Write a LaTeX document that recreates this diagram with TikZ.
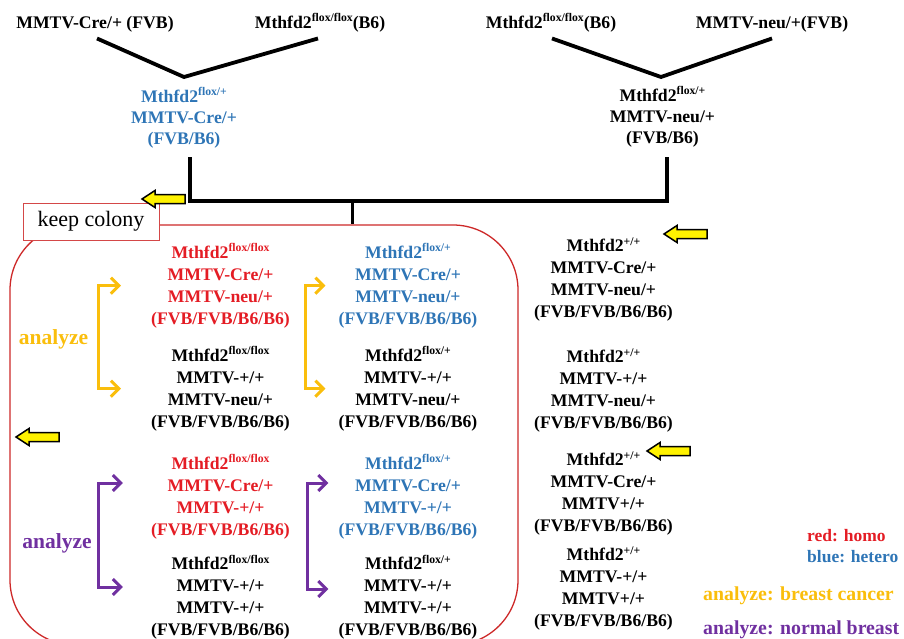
\documentclass[tikz,border=0pt]{standalone}
\usepackage{fontspec}
\setmainfont{Liberation Serif}
\usetikzlibrary{arrows.meta}
\definecolor{hred}{RGB}{228,28,36}
\definecolor{hblue}{RGB}{46,117,182}
\definecolor{gold}{RGB}{250,190,12}
\definecolor{purp}{RGB}{112,48,160}
\definecolor{boxred}{RGB}{205,40,40}
\newcommand\supr[1]{\raisebox{6.5pt}{\fontsize{11.7}{12}\selectfont #1}}
\begin{document}
\begin{tikzpicture}[x=1pt,y=-1pt,
  txt/.style={inner sep=0pt, align=center, font=\fontsize{17.7}{22}\selectfont\bfseries},
  ftxt/.style={inner sep=0pt, align=center, font=\fontsize{17.7}{21}\selectfont\bfseries},
  lgs/.style={inner sep=0pt, anchor=west, font=\fontsize{17.5}{20}\selectfont\bfseries},
  lgb/.style={inner sep=0pt, anchor=west, font=\fontsize{19.8}{22}\selectfont\bfseries},
  anl/.style={inner sep=0pt, font=\fontsize{21.5}{24}\selectfont\bfseries},
  conn/.style={line width=3.8pt, black},
  brk/.style={line width=3pt, {Straight Barb[length=8pt,width=16pt]}-{Straight Barb[length=8pt,width=16pt]}},
  yarr/.pic={\draw[fill=yellow, line width=1.5pt, line join=miter] (0,0) -- (13,-8.5) -- (13,-4.5) -- (43,-4.5) -- (43,4.5) -- (13,4.5) -- (13,8.5) -- cycle;}
]
\useasboundingbox (0,0) rectangle (904,639);
\clip (0,0) rectangle (904,639);

% parents
\node[txt, anchor=base] (p1) at (95,28.5) {MMTV-Cre/+ (FVB)};
\node[txt, anchor=base] (p2) at (320,28.5) {Mthfd2\supr{flox/flox}(B6)};
\node[txt, anchor=base] (p3) at (551,28.5) {Mthfd2\supr{flox/flox}(B6)};
\node[txt, anchor=base] (p4) at (772,28.5) {MMTV-neu/+(FVB)};

\coordinate (j1) at (184,77);
\coordinate (j2) at (661,77);
\draw[conn] ([xshift=2,yshift=-6]p1.south) -- (j1) -- ([xshift=-2,yshift=-6]p2.south);
\draw[conn] ([xshift=1,yshift=-6]p3.south) -- (j2) -- ([yshift=-6]p4.south);

% F1
\node[ftxt, text=hblue] (f1) at (184,117.7) {Mthfd2\supr{flox/+}\\MMTV-Cre/+\\(FVB/B6)};
\node[ftxt] (f2) at (662.5,117) {Mthfd2\supr{flox/+}\\MMTV-neu/+\\(FVB/B6)};

% colony box
\node[draw=boxred, line width=1.3pt, rounded corners=65pt, minimum width=508pt, minimum height=420pt, inner sep=0pt] (colony) at (264,435) {};

\draw[conn] ([xshift=6,yshift=-9]f1.south) -- ++(0,44) coordinate (hl) -| ([xshift=4.5,yshift=-10]f2.south);
\coordinate (mid) at (352.5,200.9);
\draw[conn] (mid) -- (mid |- colony.north);

\node[draw=boxred!85, line width=0.8pt, fill=white, minimum width=136pt, minimum height=37pt, inner sep=0pt, font=\fontsize{22}{24}\selectfont] (keep) at (91,221.5) {keep colony};

% column 1
\node[txt, text=hred] (c1s1) at (220.5,285.7) {Mthfd2\supr{flox/flox}\\MMTV-Cre/+\\MMTV-neu/+\\(FVB/FVB/B6/B6)};
\node[txt] (c1s2) at (220.5,388.7) {Mthfd2\supr{flox/flox}\\MMTV-+/+\\MMTV-neu/+\\(FVB/FVB/B6/B6)};
\node[txt, text=hred] (c1s3) at (220.5,496.7) {Mthfd2\supr{flox/flox}\\MMTV-Cre/+\\MMTV-+/+\\(FVB/FVB/B6/B6)};
\node[txt] (c1s4) at (220.5,597.2) {Mthfd2\supr{flox/flox}\\MMTV-+/+\\MMTV-+/+\\(FVB/FVB/B6/B6)};

% column 2
\node[txt, text=hblue] (c2s1) at (408,285.7) {Mthfd2\supr{flox/+}\\MMTV-Cre/+\\MMTV-neu/+\\(FVB/FVB/B6/B6)};
\node[txt] (c2s2) at (408,388.7) {Mthfd2\supr{flox/+}\\MMTV-+/+\\MMTV-neu/+\\(FVB/FVB/B6/B6)};
\node[txt, text=hblue] (c2s3) at (408,496.7) {Mthfd2\supr{flox/+}\\MMTV-Cre/+\\MMTV-+/+\\(FVB/FVB/B6/B6)};
\node[txt] (c2s4) at (408,597.2) {Mthfd2\supr{flox/+}\\MMTV-+/+\\MMTV-+/+\\(FVB/FVB/B6/B6)};

% column 3
\node[txt] (c3s1) at (603.5,279.7) {Mthfd2\supr{+/+}\\MMTV-Cre/+\\MMTV-neu/+\\(FVB/FVB/B6/B6)};
\node[txt] (c3s2) at (603.5,390.7) {Mthfd2\supr{+/+}\\MMTV-+/+\\MMTV-neu/+\\(FVB/FVB/B6/B6)};
\node[txt] (c3s3) at (603.5,493.7) {Mthfd2\supr{+/+}\\MMTV-Cre/+\\MMTV+/+\\(FVB/FVB/B6/B6)};
\node[txt] (c3s4) at (603.5,588.7) {Mthfd2\supr{+/+}\\MMTV-+/+\\MMTV+/+\\(FVB/FVB/B6/B6)};

% brackets
\draw[brk, gold] ([xshift=-30]c1s1.west) -- ++(-22,0) |- ([xshift=-30]c1s2.west);
\draw[brk, gold] ([xshift=-13]c2s1.west) -- ++(-20,0) |- ([xshift=-13]c2s2.west);
\draw[brk, purp] ([xshift=-28,yshift=13.7]c1s3.west) -- ++(-24,0) |- ([xshift=-28,yshift=10.2]c1s4.west);
\draw[brk, purp] ([xshift=-10,yshift=13.7]c2s3.west) -- ++(-21,0) |- ([xshift=-10,yshift=8.2]c2s4.west);

\node[anl, text=gold] (an1) at (53.5,339) {analyze};
\node[anl, text=purp] (an2) at (57,543) {analyze};

% yellow arrows
\pic at (142,199) {yarr};
\pic at (664,234) {yarr};
\pic at (16,437) {yarr};
\pic at (647,451) {yarr};

% legend
\node[lgs, text=hred] (lg1) at (807,536) {red: homo};
\node[lgs, text=hblue] (lg2) at (807,557) {blue: hetero};
\node[lgb, text=gold] (lg3) at (703,596) {analyze: breast cancer};
\node[lgb, text=purp] (lg4) at (703,630) {analyze: normal breast};
\end{tikzpicture}
\end{document}
